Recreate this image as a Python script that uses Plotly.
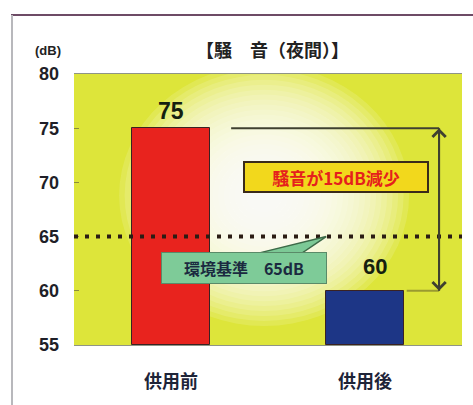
import plotly.graph_objects as go

# --- data -------------------------------------------------------------
categories = ["供用前", "供用後"]
noise_db = [75, 60]
bar_colors = ["#e8231e", "#1d3686"]
standard_db = 65
y_ticks = [55, 60, 65, 70, 75, 80]
title_text = "【騒　音（夜間）】"
unit_text = "(dB)"
reduction_text = "騒音が15dB減少"
standard_text = "環境基準　65dB"

JP = "Noto Sans CJK JP"
W, H = 473, 405
ML, MR, MT, MB = 74, 11, 74, 60

fig = go.Figure()

fig.add_trace(go.Bar(
    x=[0, 1],
    y=[v - 55 for v in noise_db],
    base=55,
    width=0.4,
    marker=dict(color=bar_colors, line=dict(color="#3a2222", width=1)),
    hoverinfo="skip",
    showlegend=False,
))

shapes = []

# soft bright glow in the middle of the yellow background
n_rings = 24
for i in range(n_rings):
    r = 145 - i * 5.5
    shapes.append(dict(
        type="circle", layer="below",
        xref="x", yref="y", xsizemode="pixel", ysizemode="pixel",
        xanchor=0.48, yanchor=68.8,
        x0=-r, x1=r, y0=-r * 0.9, y1=r * 0.9,
        fillcolor="rgba(255,255,252,0.135)", line=dict(width=0),
    ))

# environmental standard (dotted)
shapes.append(dict(
    type="line", xref="paper", yref="y", x0=0, x1=1,
    y0=standard_db, y1=standard_db,
    line=dict(color="#2b1c14", width=4, dash="4px,7px"),
))

# bracket showing the reduction
arrow_x = 1.382
line_col = "#3f4030"
shapes.append(dict(type="line", xref="x", yref="y", x0=0.31, x1=arrow_x,
                   y0=noise_db[0], y1=noise_db[0],
                   line=dict(color=line_col, width=2)))
shapes.append(dict(type="line", xref="x", yref="y", x0=1.215, x1=arrow_x,
                   y0=noise_db[1], y1=noise_db[1],
                   line=dict(color="#9a9a30", width=2)))
shapes.append(dict(type="line", xref="x", yref="y", x0=arrow_x, x1=arrow_x,
                   y0=noise_db[1], y1=noise_db[0],
                   line=dict(color=line_col, width=2)))

# callout pointer from the standard label up to the dotted line
shapes.append(dict(
    type="path", xref="x", yref="y",
    path="M 0.456 63.5 L 0.80 65.0 L 0.677 63.5 Z",
    fillcolor="#7cc996", line=dict(color="#3c6a48", width=1.5),
))

# outer frame (top and left edges)
px_x = lambda p: (p - ML) / (W - ML - MR)
px_y = lambda p: (H - MB - p) / (H - MT - MB)
shapes.append(dict(type="line", xref="paper", yref="paper",
                   x0=px_x(11), x1=px_x(480), y0=px_y(15), y1=px_y(15),
                   line=dict(color="#6d4b66", width=2)))
shapes.append(dict(type="line", xref="paper", yref="paper",
                   x0=px_x(12), x1=px_x(12), y0=px_y(15), y1=px_y(410),
                   line=dict(color="#b8b8bc", width=2)))

annotations = []
# arrowheads on the bracket
for ay, yv in [(noise_db[1] + 0.2, noise_db[0]), (noise_db[0] - 0.2, noise_db[1])]:
    annotations.append(dict(
        x=arrow_x, y=yv, ax=arrow_x, ay=ay, xref="x", yref="y",
        axref="x", ayref="y", text="", showarrow=True,
        arrowhead=4, arrowsize=1.6, arrowwidth=1.6, arrowcolor=line_col,
    ))

# value labels
annotations.append(dict(x=0, y=noise_db[0], xref="x", yref="y", yshift=17,
                        text=f"<b>{noise_db[0]}</b>", showarrow=False,
                        font=dict(family="Liberation Sans, Arial", size=23, color="#15200f")))
annotations.append(dict(x=1.05, y=noise_db[1], xref="x", yref="y", yshift=24,
                        text=f"<b>{noise_db[1]}</b>", showarrow=False,
                        font=dict(family="Liberation Sans, Arial", size=22, color="#15200f")))

# reduction box
annotations.append(dict(
    x=0.85, y=70.5, xref="x", yref="y", text=f"<b>{reduction_text}</b>",
    showarrow=False, width=178, height=24,
    bgcolor="#f2d81c", bordercolor="#3a2a1a", borderwidth=2, borderpad=2,
    font=dict(family=JP, size=17, color="#e5201c"),
))
# standard box
annotations.append(dict(
    x=0.377, y=62.1, xref="x", yref="y", text=f"<b>{standard_text}</b>",
    showarrow=False, width=160, height=26,
    bgcolor="#7ecb98", bordercolor="#5a8a68", borderwidth=1, borderpad=2,
    font=dict(family=JP, size=16, color="#1b2a40"),
))

# title and unit
annotations.append(dict(x=px_x(272), y=px_y(49), xref="paper", yref="paper",
                        xanchor="center", yanchor="middle",
                        text=f"<b>{title_text}</b>", showarrow=False,
                        font=dict(family=JP, size=18, color="#222222")))
annotations.append(dict(x=px_x(48), y=px_y(50), xref="paper", yref="paper",
                        xanchor="center", yanchor="middle",
                        text=f"<b>{unit_text}</b>", showarrow=False,
                        font=dict(family="Liberation Sans, Arial", size=13, color="#222222")))

fig.update_layout(
    width=W, height=H,
    margin=dict(l=ML, r=MR, t=MT, b=MB, pad=0),
    paper_bgcolor="#ffffff",
    plot_bgcolor="#dde53a",
    shapes=shapes,
    annotations=annotations,
    bargap=0,
    xaxis=dict(
        range=[-0.5, 1.5], tickmode="array", tickvals=[0, 1],
        ticktext=[f"<b>{c}</b>" for c in categories],
        showgrid=False, zeroline=False, ticks="",
        showline=True, mirror=True, linecolor="#8f9486", linewidth=1,
        ticklabelstandoff=20,
        tickfont=dict(family=JP, size=18, color="#1e2438"),
    ),
    yaxis=dict(
        range=[55, 80], tickmode="array", tickvals=y_ticks,
        ticktext=[f"<b>{t}</b>" for t in y_ticks],
        showgrid=False, zeroline=False,
        ticks="inside", ticklen=5, tickcolor="#8c8c3a", tickwidth=1,
        ticklabelstandoff=14,
        tickfont=dict(family="Liberation Sans, Arial", size=18, color="#1f1f28"),
    ),
)

fig.write_html("out.html")
